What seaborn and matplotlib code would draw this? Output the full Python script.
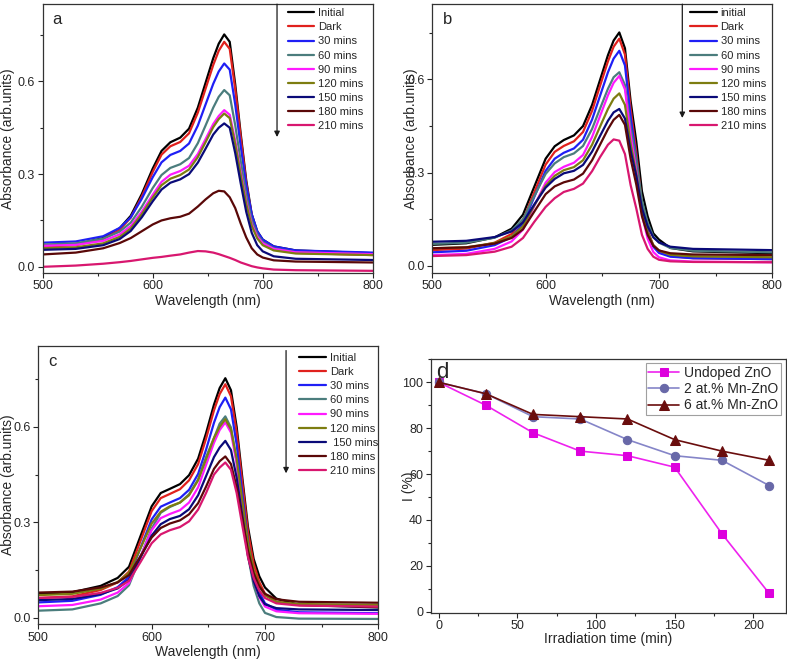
import numpy as np
import pandas as pd
import matplotlib
matplotlib.use("Agg")
import matplotlib.pyplot as plt
import seaborn as sns
from matplotlib.ticker import MultipleLocator

sns.set_theme(style="ticks")
plt.rcParams['font.family'] = ['Liberation Sans', 'DejaVu Sans']

wl = [500, 530, 555, 570, 580, 590, 600, 608, 616, 625, 633, 641, 648, 655, 660, 665, 670, 675, 680, 685, 690, 695, 700, 710, 730, 800]

labels_a = ["Initial", "Dark", "30 mins", "60 mins", "90 mins", "120 mins", "150 mins", "180 mins", "210 mins"]
labels_b = ["initial", "Dark", "30 mins", "60 mins", "90 mins", "120 mins", "150 mins", "180 mins", "210 mins"]
labels_c = ["Initial", "Dark", "30 mins", "60 mins", "90 mins", "120 mins", " 150 mins", "180 mins", "210 mins"]
colors = ["#000000", "#e0211d", "#1f1ff5", "#4b7d7d", "#ff1aff", "#7d7d10", "#0a0a78", "#5a0808", "#d8176f"]

# panel a
a_initial = [0.068, 0.073, 0.093, 0.125, 0.165, 0.235, 0.318, 0.375, 0.403, 0.418, 0.447, 0.515, 0.595, 0.675, 0.722, 0.752, 0.728, 0.590, 0.430, 0.280, 0.170, 0.115, 0.088, 0.066, 0.053, 0.044]
a_dark = [0.065, 0.070, 0.090, 0.120, 0.159, 0.227, 0.307, 0.363, 0.390, 0.404, 0.432, 0.499, 0.576, 0.653, 0.699, 0.728, 0.705, 0.575, 0.420, 0.272, 0.165, 0.108, 0.078, 0.058, 0.045, 0.038]
a_30 = [0.078, 0.082, 0.099, 0.126, 0.160, 0.220, 0.290, 0.338, 0.362, 0.375, 0.399, 0.457, 0.525, 0.592, 0.632, 0.658, 0.638, 0.525, 0.390, 0.265, 0.170, 0.115, 0.088, 0.066, 0.053, 0.046]
a_60 = [0.072, 0.076, 0.091, 0.114, 0.143, 0.194, 0.255, 0.297, 0.320, 0.332, 0.352, 0.400, 0.457, 0.515, 0.550, 0.572, 0.555, 0.458, 0.342, 0.233, 0.150, 0.105, 0.080, 0.060, 0.047, 0.040]
a_90 = [0.068, 0.071, 0.084, 0.105, 0.132, 0.178, 0.233, 0.275, 0.298, 0.310, 0.327, 0.365, 0.413, 0.462, 0.488, 0.507, 0.492, 0.408, 0.306, 0.211, 0.138, 0.098, 0.076, 0.058, 0.047, 0.041]
a_120 = [0.060, 0.063, 0.076, 0.097, 0.124, 0.170, 0.224, 0.264, 0.285, 0.297, 0.315, 0.355, 0.403, 0.452, 0.478, 0.496, 0.481, 0.397, 0.296, 0.203, 0.132, 0.092, 0.070, 0.053, 0.043, 0.038]
a_150 = [0.055, 0.058, 0.070, 0.090, 0.116, 0.160, 0.212, 0.250, 0.272, 0.283, 0.300, 0.337, 0.382, 0.428, 0.450, 0.464, 0.450, 0.368, 0.270, 0.178, 0.110, 0.070, 0.050, 0.034, 0.026, 0.022]
a_180 = [0.040, 0.046, 0.060, 0.077, 0.093, 0.115, 0.137, 0.150, 0.157, 0.162, 0.172, 0.195, 0.218, 0.238, 0.246, 0.244, 0.225, 0.190, 0.140, 0.095, 0.060, 0.040, 0.030, 0.021, 0.017, 0.014]
a_210 = [0.000, 0.004, 0.010, 0.015, 0.019, 0.024, 0.029, 0.032, 0.036, 0.040, 0.046, 0.051, 0.050, 0.046, 0.041, 0.035, 0.029, 0.022, 0.014, 0.008, 0.002, -0.002, -0.005, -0.009, -0.011, -0.013]

# panel b
b_initial = [0.068, 0.073, 0.092, 0.120, 0.165, 0.255, 0.345, 0.385, 0.405, 0.420, 0.450, 0.518, 0.598, 0.678, 0.725, 0.751, 0.700, 0.530, 0.400, 0.240, 0.160, 0.105, 0.085, 0.058, 0.047, 0.041]
b_dark = [0.051, 0.056, 0.075, 0.103, 0.148, 0.237, 0.326, 0.367, 0.386, 0.401, 0.431, 0.499, 0.579, 0.658, 0.705, 0.731, 0.680, 0.505, 0.365, 0.200, 0.115, 0.065, 0.045, 0.032, 0.025, 0.022]
b_30 = [0.044, 0.049, 0.067, 0.093, 0.136, 0.222, 0.306, 0.345, 0.364, 0.378, 0.406, 0.471, 0.547, 0.623, 0.667, 0.692, 0.645, 0.480, 0.345, 0.190, 0.110, 0.062, 0.042, 0.030, 0.025, 0.022]
b_60 = [0.071, 0.075, 0.091, 0.114, 0.150, 0.225, 0.296, 0.330, 0.350, 0.362, 0.386, 0.441, 0.506, 0.570, 0.607, 0.623, 0.582, 0.445, 0.340, 0.210, 0.140, 0.095, 0.075, 0.058, 0.049, 0.044]
b_90 = [0.035, 0.039, 0.055, 0.079, 0.117, 0.193, 0.268, 0.302, 0.319, 0.332, 0.357, 0.415, 0.482, 0.549, 0.589, 0.611, 0.568, 0.420, 0.305, 0.165, 0.088, 0.045, 0.028, 0.018, 0.014, 0.012]
b_120 = [0.057, 0.060, 0.074, 0.095, 0.128, 0.195, 0.258, 0.290, 0.308, 0.318, 0.340, 0.390, 0.448, 0.505, 0.538, 0.555, 0.518, 0.392, 0.295, 0.175, 0.108, 0.068, 0.050, 0.036, 0.031, 0.028]
b_150 = [0.078, 0.081, 0.093, 0.111, 0.140, 0.198, 0.252, 0.280, 0.298, 0.306, 0.325, 0.368, 0.418, 0.467, 0.494, 0.505, 0.474, 0.370, 0.290, 0.185, 0.128, 0.092, 0.076, 0.062, 0.055, 0.051]
b_180 = [0.057, 0.060, 0.072, 0.090, 0.118, 0.175, 0.231, 0.256, 0.269, 0.278, 0.297, 0.340, 0.390, 0.440, 0.470, 0.486, 0.454, 0.345, 0.262, 0.160, 0.100, 0.065, 0.050, 0.041, 0.037, 0.035]
b_210 = [0.032, 0.035, 0.046, 0.062, 0.090, 0.142, 0.190, 0.218, 0.238, 0.248, 0.265, 0.305, 0.350, 0.390, 0.407, 0.403, 0.360, 0.260, 0.185, 0.100, 0.055, 0.030, 0.020, 0.015, 0.013, 0.012]

# panel c
c_initial = [0.075, 0.080, 0.100, 0.125, 0.160, 0.255, 0.350, 0.392, 0.405, 0.420, 0.448, 0.500, 0.580, 0.670, 0.722, 0.753, 0.715, 0.600, 0.440, 0.285, 0.185, 0.130, 0.095, 0.060, 0.040, 0.032]
c_dark = [0.062, 0.067, 0.087, 0.111, 0.145, 0.240, 0.335, 0.376, 0.389, 0.404, 0.432, 0.483, 0.563, 0.652, 0.703, 0.734, 0.696, 0.582, 0.425, 0.270, 0.170, 0.112, 0.075, 0.050, 0.040, 0.035]
c_30 = [0.048, 0.053, 0.072, 0.096, 0.128, 0.218, 0.309, 0.349, 0.362, 0.376, 0.402, 0.452, 0.528, 0.613, 0.662, 0.692, 0.655, 0.545, 0.390, 0.240, 0.140, 0.080, 0.045, 0.025, 0.017, 0.014]
c_60 = [0.022, 0.026, 0.045, 0.068, 0.102, 0.190, 0.280, 0.330, 0.348, 0.362, 0.388, 0.435, 0.505, 0.565, 0.610, 0.633, 0.598, 0.490, 0.340, 0.195, 0.100, 0.045, 0.015, 0.002, -0.003, -0.004]
c_90 = [0.036, 0.040, 0.057, 0.079, 0.109, 0.190, 0.275, 0.313, 0.326, 0.338, 0.362, 0.410, 0.480, 0.550, 0.590, 0.614, 0.582, 0.485, 0.345, 0.210, 0.120, 0.065, 0.035, 0.020, 0.014, 0.012]
c_120 = [0.071, 0.075, 0.091, 0.112, 0.141, 0.217, 0.296, 0.333, 0.350, 0.362, 0.385, 0.432, 0.498, 0.565, 0.600, 0.624, 0.592, 0.500, 0.368, 0.235, 0.150, 0.100, 0.070, 0.050, 0.043, 0.040]
c_150 = [0.055, 0.059, 0.074, 0.092, 0.119, 0.188, 0.258, 0.294, 0.310, 0.320, 0.341, 0.385, 0.445, 0.505, 0.535, 0.556, 0.527, 0.440, 0.320, 0.195, 0.115, 0.068, 0.042, 0.030, 0.026, 0.024]
c_180 = [0.079, 0.082, 0.095, 0.111, 0.134, 0.193, 0.252, 0.282, 0.296, 0.306, 0.325, 0.360, 0.412, 0.468, 0.492, 0.507, 0.483, 0.410, 0.310, 0.210, 0.140, 0.098, 0.075, 0.058, 0.050, 0.047]
c_210 = [0.062, 0.065, 0.078, 0.094, 0.116, 0.174, 0.234, 0.262, 0.275, 0.285, 0.303, 0.340, 0.392, 0.450, 0.472, 0.488, 0.465, 0.392, 0.290, 0.190, 0.125, 0.085, 0.062, 0.045, 0.038, 0.035]

# panel d
time_min = [0, 30, 60, 90, 120, 150, 180, 210]
undoped = [100, 90, 78, 70, 68, 63, 34, 8]
mn2 = [100, 95, 85, 84, 75, 68, 66, 55]
mn6 = [100, 95, 86, 85, 84, 75, 70, 66]


def long_df(labels, curves):
    rows = []
    for lab, cur in zip(labels, curves):
        for w, v in zip(wl, cur):
            rows.append((lab, w, v))
    return pd.DataFrame(rows, columns=["sample", "wl", "abs"])


def spectra_panel(ax, labels, curves, ylim, letter, leg_x, leg_y, arrow_x, arrow_y, ylabelpad):
    df = long_df(labels, curves)
    sns.lineplot(data=df, x="wl", y="abs", hue="sample", hue_order=labels,
                 palette=colors, sort=False, lw=1.6, ax=ax)
    ax.set_xlim(500, 800)
    ax.set_ylim(*ylim)
    ax.xaxis.set_major_locator(MultipleLocator(100))
    ax.xaxis.set_minor_locator(MultipleLocator(50))
    ax.yaxis.set_major_locator(MultipleLocator(0.3))
    ax.yaxis.set_minor_locator(MultipleLocator(0.15))
    ax.set_xlabel("Wavelength (nm)", fontsize=10, labelpad=1)
    ax.set_ylabel("Absorbance (arb.units)", fontsize=10, labelpad=ylabelpad)
    ax.tick_params(which="major", length=3.5, width=0.8, labelsize=9, pad=2)
    ax.tick_params(which="minor", length=2, width=0.8)
    for s in ax.spines.values():
        s.set_color("#333333")
        s.set_linewidth(0.9)
    ax.text(0.03, 0.97, letter, transform=ax.transAxes, fontsize=12, va="top", ha="left")
    ax.legend(loc="upper left", bbox_to_anchor=(leg_x, leg_y), frameon=False, fontsize=8,
              handlelength=2.4, handletextpad=0.35, labelspacing=0.37, borderpad=0, borderaxespad=0)
    ax.annotate("", xy=(arrow_x, arrow_y[1]), xytext=(arrow_x, arrow_y[0]),
                arrowprops=dict(arrowstyle="-|>", color="k", lw=0.9, mutation_scale=8,
                                shrinkA=0, shrinkB=0))


fig = plt.figure(figsize=(7.87, 6.68), dpi=100)
ax_a = fig.add_axes([0.0543, 0.5918, 0.4193, 0.402])
ax_b = fig.add_axes([0.5493, 0.5918, 0.432, 0.402])
ax_c = fig.add_axes([0.0487, 0.0659, 0.432, 0.416])
ax_d = fig.add_axes([0.5473, 0.0828, 0.451, 0.3793])

spectra_panel(ax_a, labels_a, [a_initial, a_dark, a_30, a_60, a_90, a_120, a_150, a_180, a_210],
              (-0.019, 0.85), "a", 0.742, 0.985, 713, (0.85, 0.42), 2)
spectra_panel(ax_b, labels_b, [b_initial, b_dark, b_30, b_60, b_90, b_120, b_150, b_180, b_210],
              (-0.0215, 0.842), "b", 0.758, 0.985, 720.6, (0.842, 0.476), -8)
spectra_panel(ax_c, labels_c, [c_initial, c_dark, c_30, c_60, c_90, c_120, c_150, c_180, c_210],
              (-0.0198, 0.854), "c", 0.767, 0.975, 718.6, (0.84, 0.454), -1)

# panel d
sns.lineplot(x=time_min, y=undoped, ax=ax_d, color="#ee22ee", lw=1.2, marker="s", ms=6,
             markeredgecolor="#dd00dd", markerfacecolor="#dd00dd", label="Undoped ZnO")
sns.lineplot(x=time_min, y=mn2, ax=ax_d, color="#8585c8", lw=1.2, marker="o", ms=6,
             markeredgecolor="#6868a8", markerfacecolor="#6868a8", label="2 at.% Mn-ZnO")
sns.lineplot(x=time_min, y=mn6, ax=ax_d, color="#6a0d0d", lw=1.2, marker="^", ms=7,
             markeredgecolor="#6a0d0d", markerfacecolor="#6a0d0d", label="6 at.% Mn-ZnO")
ax_d.set_xlim(-5, 220.5)
ax_d.set_ylim(-0.4, 110)
ax_d.xaxis.set_major_locator(MultipleLocator(50))
ax_d.xaxis.set_minor_locator(MultipleLocator(25))
ax_d.yaxis.set_major_locator(MultipleLocator(20))
ax_d.yaxis.set_minor_locator(MultipleLocator(10))
ax_d.set_xlabel("Irradiation time (min)", fontsize=10, labelpad=0)
ax_d.set_ylabel("I (%)", fontsize=10, labelpad=-10)
ax_d.tick_params(which="major", length=3.5, width=0.8, labelsize=9, pad=2)
ax_d.tick_params(which="minor", length=2, width=0.8)
for s in ax_d.spines.values():
    s.set_color("#333333")
    s.set_linewidth(0.9)
ax_d.text(0.015, 0.99, "d", transform=ax_d.transAxes, fontsize=16, va="top", ha="left")
leg = ax_d.legend(loc="upper right", fontsize=10, fancybox=False, edgecolor="#888888",
                  handlelength=2.2, handletextpad=0.4, labelspacing=0.15, borderpad=0.2,
                  borderaxespad=0.3)
leg.get_frame().set_linewidth(0.8)

fig.savefig("out.png", dpi=100)
